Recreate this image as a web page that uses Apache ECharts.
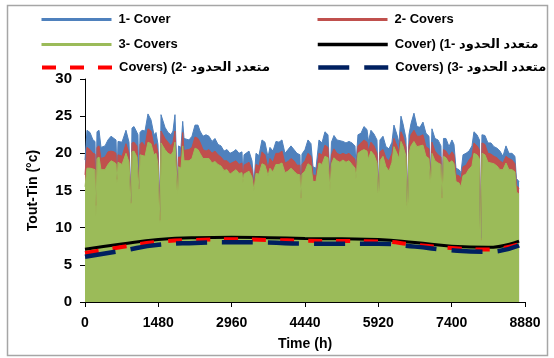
<!DOCTYPE html>
<html dir="ltr"><head><meta charset="utf-8">
<script src="https://cdn.jsdelivr.net/npm/echarts@6/dist/echarts.min.js"></script>
<style>html,body{margin:0;padding:0;background:#fff}#c{width:554px;height:358px}</style>
</head><body><div id="c"></div><script>
// Hour of year for each read point
const hours = [0,20,40,101,161,202,222,242,283,323,404,464,525,585,626,646,666,747,827,888,908,928,948,989,1049,1069,1090,1110,1150,1211,1271,1332,1392,1433,1473,1493,1514,1534,1574,1614,1675,1735,1776,1816,1846,1867,1887,1937,1972,1998,2038,2099,2159,2220,2280,2321,2381,2442,2502,2563,2623,2684,2744,2805,2866,2926,2987,3047,3108,3168,3188,3209,3249,3310,3370,3410,3451,3511,3572,3632,3693,3733,3794,3854,3915,3975,4036,4097,4157,4218,4278,4339,4359,4379,4440,4500,4561,4601,4662,4722,4783,4843,4904,4924,4944,4974,5025,5085,5146,5206,5267,5328,5388,5449,5469,5509,5570,5630,5691,5721,5771,5832,5893,5923,5953,6014,6074,6135,6195,6235,6296,6336,6377,6417,6478,6508,6538,6579,6639,6700,6760,6821,6881,6942,6972,7002,7063,7124,7184,7205,7235,7285,7346,7406,7447,7487,7548,7588,7629,7689,7750,7810,7850,7911,7961,7985,8011,8072,8132,8193,8253,8314,8375,8435,8496,8556,8617,8677,8707,8760];
const cover1 = [19.1,19.0,23.1,22.8,21.8,21.6,14.5,22.9,23.1,20.8,21.0,21.8,22.3,22.0,21.8,17.0,21.6,21.5,23.1,21.5,21.4,13.5,23.4,23.6,22.8,22.5,15.5,22.8,23.1,23.0,25.3,24.5,22.5,22.8,21.2,21.0,12.1,25.2,25.4,23.5,22.8,22.5,23.0,25.2,25.0,15.5,21.0,20.8,24.3,22.0,21.8,21.8,22.3,23.8,23.8,23.0,22.3,22.5,22.3,21.6,22.0,21.2,21.0,20.3,20.5,20.0,20.2,20.5,20.0,20.2,17.0,19.8,19.7,20.3,19.0,16.0,20.0,19.7,21.8,21.5,19.5,20.8,20.3,21.6,21.5,21.8,20.0,20.5,21.0,20.5,20.0,19.8,14.5,19.9,20.5,21.8,21.3,18.2,18.0,21.8,21.4,22.9,22.5,22.3,16.5,21.5,22.4,21.8,21.7,21.6,21.4,21.6,21.4,21.0,18.5,22.5,22.7,23.6,23.2,21.6,23.1,22.6,21.8,15.0,21.8,22.3,20.9,20.6,21.5,23.8,22.5,21.4,25.0,24.0,22.0,13.5,22.5,24.0,25.4,23.6,23.5,24.2,22.7,22.3,17.0,23.3,22.0,21.8,21.0,14.5,22.0,22.0,20.9,21.8,21.2,18.0,17.8,17.4,19.8,20.0,20.3,21.0,22.9,22.5,21.8,8.6,22.5,22.4,21.4,21.4,20.9,20.7,20.3,19.6,21.0,20.0,20.0,19.6,16.6,16.2];
const cover2 = [17.1,17.0,20.8,20.5,20.0,19.9,13.0,20.8,21.0,19.3,19.5,20.2,20.3,20.2,20.0,16.5,19.8,19.6,21.3,20.0,19.9,13.3,21.4,21.5,21.0,20.8,15.2,21.2,21.5,21.0,23.3,23.0,21.0,21.3,20.0,19.8,11.0,23.0,23.2,22.0,21.5,21.0,21.5,23.0,22.8,15.0,19.5,19.5,22.8,20.4,20.2,20.5,20.8,22.2,22.0,21.5,20.5,20.3,20.5,20.0,20.3,19.8,19.5,19.0,19.0,18.6,18.8,19.0,18.5,18.7,16.5,18.4,18.3,18.8,17.8,15.5,18.5,18.3,20.2,19.8,18.0,19.3,18.8,20.0,20.0,20.3,18.7,18.9,19.3,19.0,18.4,18.4,14.0,18.5,19.0,20.0,19.6,17.1,17.0,20.0,19.8,21.1,20.8,20.6,16.0,19.8,20.6,20.0,19.8,20.0,19.8,20.0,19.6,19.2,17.5,21.0,21.4,21.8,21.5,20.3,21.5,21.0,20.0,14.7,20.2,20.5,19.4,19.0,20.0,22.0,21.0,20.2,22.9,22.3,20.8,13.0,21.0,22.5,23.1,22.3,22.3,22.5,20.9,20.6,16.5,21.5,20.3,19.8,19.5,14.0,20.5,20.3,19.6,20.2,19.8,17.1,17.0,16.6,18.2,18.4,19.1,19.6,21.4,21.0,20.5,8.3,21.4,21.2,20.0,19.9,19.6,19.4,19.0,18.7,19.6,19.3,19.1,18.6,15.7,15.3];
const cover3 = [15.5,15.4,18.0,18.0,17.9,17.8,11.5,19.3,19.5,17.8,17.8,18.5,19.0,18.8,18.6,16.0,18.8,18.5,20.0,18.8,18.7,13.0,20.2,20.3,19.5,19.4,15.0,19.8,20.0,19.6,21.5,21.3,19.8,20.0,18.5,18.4,10.5,21.4,21.6,20.5,20.0,19.8,20.2,21.5,21.3,14.5,18.2,18.0,21.0,19.0,18.8,19.0,19.3,20.7,20.5,20.0,19.3,19.3,19.3,18.7,18.9,18.5,18.3,17.7,17.8,17.2,17.5,17.8,17.3,17.4,16.0,17.2,17.1,17.6,16.8,15.0,17.3,17.2,18.6,18.4,17.0,18.0,17.5,18.5,18.5,18.7,17.4,17.6,18.0,17.6,17.2,17.1,13.5,17.2,17.6,18.6,18.3,16.2,16.2,18.7,18.5,19.6,19.4,19.3,15.0,18.6,19.4,19.0,18.8,19.1,18.8,19.0,18.5,18.0,16.5,20.0,20.3,20.5,20.3,19.2,20.3,19.8,18.7,14.5,19.0,19.6,18.2,17.6,18.8,20.9,20.0,19.3,21.6,21.0,19.6,12.5,20.0,21.0,21.6,20.9,21.0,21.1,19.6,19.3,16.0,20.0,19.0,18.7,18.5,13.8,19.6,19.4,18.7,19.0,18.6,16.2,16.0,15.5,17.0,17.2,17.9,18.3,20.0,19.8,19.3,8.0,20.0,19.8,18.8,18.7,18.6,18.3,17.8,17.8,18.7,17.8,17.8,17.5,14.8,14.5];
// Polynomial trend lines (read values)
const trendHours = [0,740,1480,2220,2960,3700,4440,5180,5920,6660,7400,8140,8760];
const poly1 = [7.1,7.8,8.4,8.65,8.7,8.65,8.55,8.5,8.4,8.0,7.5,7.35,8.2];
const poly2 = [6.6,7.4,8.1,8.35,8.45,8.35,8.25,8.2,8.15,7.7,7.25,7.05,7.8];
const poly3 = [6.1,6.9,7.7,7.95,8.05,8.0,7.85,7.85,7.85,7.45,6.95,6.75,7.6];
const names = ['1- Cover','2- Covers','3- Covers',
  'Cover) (1- متعدد الحدود','Covers) (2- متعدد الحدود','Covers) (3- متعدد الحدود'];
const xMax = 8880, xStep = 1480, yMax = 30, yStep = 5;

const FONT = 'Liberation Sans, DejaVu Sans, sans-serif';
const pairs = (xs, ys) => xs.map((x, i) => [x, ys[i]]);
const areaSeries = (name, vals, color) => ({
  name, type: 'line', data: pairs(hours, vals), symbol: 'none', showSymbol: false, smooth: false,
  lineStyle: { color, width: 1 }, itemStyle: { color },
  areaStyle: { color, opacity: 1 }, emphasis: { disabled: true }, animation: false
});
const trendSeries = (name, vals, color, width, type) => ({
  name, type: 'line', data: pairs(trendHours, vals), symbol: 'none', showSymbol: false, smooth: true,
  lineStyle: { color, width, type, cap: 'butt' }, itemStyle: { color },
  z: 5, emphasis: { disabled: true }, animation: false
});
const legendItem = (name, left, top, color, type, width) => ({
  data: [name], left, top, padding: 0, itemWidth: 70, itemHeight: 14, itemGap: 0,
  selectedMode: false,
  itemStyle: { opacity: 0 },
  lineStyle: { color, width, type, opacity: 1 },
  textStyle: { fontFamily: FONT, fontSize: 13, fontWeight: 'bold', color: '#000', padding: [0, 0, 0, 2] }
});

const chart = echarts.init(document.getElementById('c'), null, { renderer: 'canvas' });
chart.setOption({
  animation: false,
  backgroundColor: '#fff',
  graphic: [{ type: 'rect', shape: { x: 7.5, y: 5.5, width: 540, height: 350 },
    style: { fill: 'none', stroke: '#a6a6a6', lineWidth: 1.5 }, silent: true }],
  legend: [
    legendItem(names[0], 40, 13, '#4F81BD', 'solid', 3),
    legendItem(names[1], 316, 13, '#C0504D', 'solid', 3),
    legendItem(names[2], 40, 38, '#9BBB59', 'solid', 3),
    legendItem(names[3], 316, 38, '#000000', 'solid', 3.5),
    legendItem(names[4], 40, 61, '#FF0000', [14, 14], 4),
    legendItem(names[5], 316, 61, '#002060', [31, 15], 4.5)
  ],
  grid: { left: 85, right: 29, top: 79, bottom: 56, containLabel: false },
  xAxis: {
    type: 'value', min: 0, max: xMax, interval: xStep,
    name: 'Time (h)', nameLocation: 'middle', nameGap: 35,
    nameTextStyle: { fontFamily: FONT, fontSize: 14, fontWeight: 'bold', color: '#000' },
    axisLine: { show: true, lineStyle: { color: '#000', width: 1 } },
    axisTick: { show: true, length: 5, lineStyle: { color: '#000' } },
    splitLine: { show: false },
    axisLabel: { fontFamily: FONT, fontSize: 14, fontWeight: 'bold', color: '#000', margin: 14,
      formatter: v => String(v) }
  },
  yAxis: {
    type: 'value', min: 0, max: yMax, interval: yStep,
    name: 'Tout-Tin (°c)', nameLocation: 'middle', nameGap: 45, nameRotate: 90,
    nameTextStyle: { fontFamily: FONT, fontSize: 14, fontWeight: 'bold', color: '#000' },
    axisLine: { show: true, lineStyle: { color: '#000', width: 1 } },
    axisTick: { show: true, length: 5, lineStyle: { color: '#000' } },
    splitLine: { show: false },
    axisLabel: { fontFamily: FONT, fontSize: 15, fontWeight: 'bold', color: '#000', margin: 13,
      formatter: v => String(v) }
  },
  series: [
    areaSeries(names[0], cover1, '#4F81BD'),
    areaSeries(names[1], cover2, '#C0504D'),
    areaSeries(names[2], cover3, '#9BBB59'),
    trendSeries(names[3], poly1, '#000000', 3, 'solid'),
    trendSeries(names[4], poly2, '#FF0000', 4, [14, 14]),
    trendSeries(names[5], poly3, '#002060', 4.5, [31, 15])
  ]
});
</script></body></html>
